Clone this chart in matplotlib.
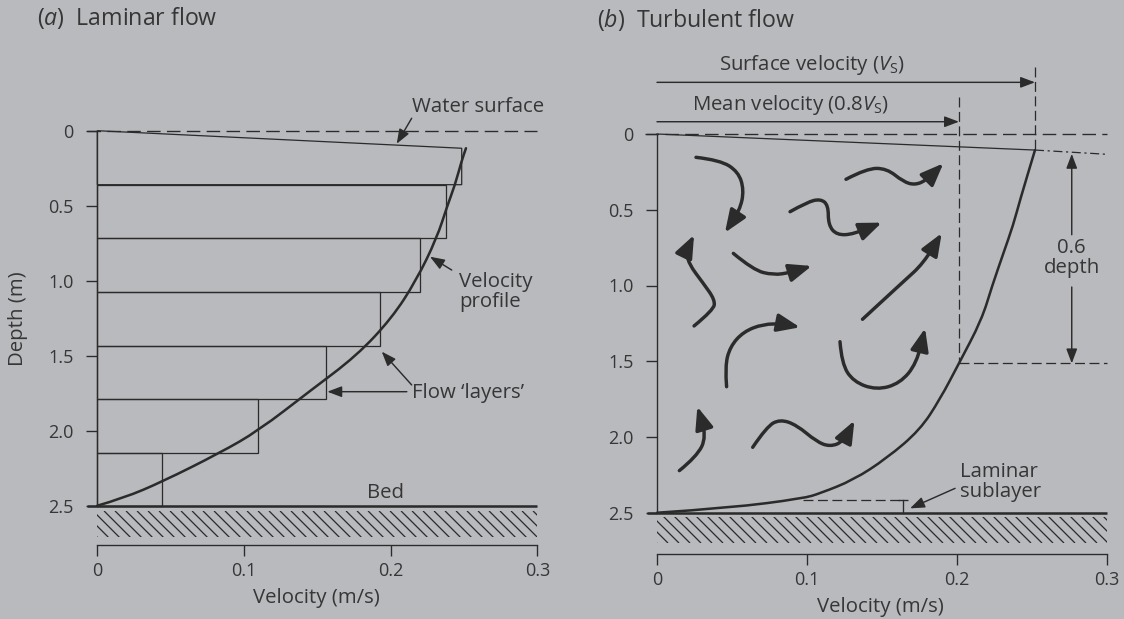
import matplotlib.pyplot as plt
import numpy as np
from matplotlib.collections import LineCollection
from matplotlib.patches import FancyArrowPatch, PathPatch, Polygon, Rectangle
from matplotlib.path import Path

DPI = 130
W_PX, H_PX = 1124, 619

BG = "#b9babd"
INK = "#2b2b2b"
TEXT = "#363636"

# axis ticks shared by both panels
DEPTH_TICKS = [0, 0.5, 1.0, 1.5, 2.0, 2.5]
DEPTH_LABELS = ["0", "0.5", "1.0", "1.5", "2.0", "2.5"]
VEL_TICKS = [0, 0.1, 0.2, 0.3]
VEL_LABELS = ["0", "0.1", "0.2", "0.3"]
BED_DEPTH = 2.5
VEL_MAX = 0.3

# (a) laminar flow: stacked layers and the velocity profile
LAYER_TOP = [0.0, 0.36, 0.717, 1.077, 1.433, 1.789, 2.147]
LAYER_BOTTOM = [0.36, 0.717, 1.077, 1.433, 1.789, 2.147, 2.5]
LAYER_VELOCITY = [0.2484, 0.2377, 0.22, 0.1927, 0.1557, 0.1098, 0.0443]
LAM_SURFACE_DROP = 0.117
LAM_PROFILE_V = [0.0, 0.0177, 0.0443, 0.0837, 0.1098, 0.145, 0.1768,
                 0.2007, 0.2173, 0.2314, 0.2386, 0.2438, 0.2484, 0.2513]
LAM_PROFILE_D = [2.5, 2.45, 2.34, 2.147, 2.0, 1.735, 1.5,
                 1.25, 1.0, 0.717, 0.5, 0.362, 0.2, 0.117]

# (b) turbulent flow: velocity profile, reference velocities, eddies
TURB_PROFILE_V = [0.0, 0.0487, 0.0976, 0.1087, 0.1309, 0.1531, 0.1753,
                  0.1887, 0.2013, 0.2164, 0.2235, 0.2309, 0.2375, 0.242, 0.252]
TURB_PROFILE_D = [2.5, 2.468, 2.405, 2.372, 2.284, 2.141, 1.954,
                  1.75, 1.514, 1.228, 1.0, 0.788, 0.6, 0.436, 0.106]
SURFACE_V = 0.252
MEAN_V = 0.2013
MEAN_DEPTH = 1.514
TURB_SURFACE_DROP = 0.106
TURB_EDGE_DROP = 0.134
SUBLAYER_TOP = 2.416
SUBLAYER_START_V = 0.0976
SUBLAYER_MARK_V = 0.1642

EDDIES = [
    [(0.026, 0.154), (0.042, 0.172), (0.0542, 0.249), (0.058, 0.370),
     (0.0553, 0.502), (0.0453, 0.651)],
    [(0.126, 0.299), (0.1398, 0.227), (0.1531, 0.227), (0.1642, 0.315),
     (0.172, 0.337), (0.1798, 0.304), (0.1909, 0.194)],
    [(0.0887, 0.513), (0.100, 0.45), (0.109, 0.428), (0.1142, 0.47),
     (0.1142, 0.60), (0.1198, 0.667), (0.131, 0.662), (0.1498, 0.585)],
    [(0.0509, 0.788), (0.0642, 0.898), (0.0776, 0.931), (0.0887, 0.915),
     (0.1031, 0.871)],
    [(0.0247, 1.267), (0.0376, 1.162), (0.0387, 1.096), (0.0309, 0.986),
     (0.0209, 0.854), (0.0198, 0.766), (0.0247, 0.667)],
    [(0.137, 1.223), (0.1509, 1.096), (0.1642, 0.975), (0.1776, 0.854),
     (0.1898, 0.655)],
    [(0.0464, 1.668), (0.0453, 1.536), (0.0487, 1.404), (0.0576, 1.305),
     (0.0709, 1.254), (0.0842, 1.254), (0.0953, 1.276)],
    [(0.122, 1.371), (0.1231, 1.514), (0.1309, 1.635), (0.1464, 1.69),
     (0.162, 1.646), (0.1731, 1.514), (0.1787, 1.283)],
    [(0.0149, 2.222), (0.0264, 2.13), (0.0331, 1.998), (0.0269, 1.8)],
    [(0.0638, 2.068), (0.0731, 1.932), (0.082, 1.883), (0.0931, 1.921),
     (0.1064, 2.031), (0.1153, 2.064), (0.1242, 2.031), (0.1316, 1.892)],
]

LABEL_PT = 11.3
TICK_PT = 10
TITLE_PT = 12.8

plt.rcParams.update({
    "font.family": ["Open Sans", "DejaVu Sans"],
    "mathtext.fontset": "custom",
    "mathtext.rm": "Open Sans",
    "mathtext.it": "Open Sans:italic",
    "lines.scale_dashes": False,
    "text.color": TEXT,
})

HATCH_STEP_PX = 11     # horizontal gap between bed hatch strokes
DASHED = (0, (7.5, 3.5))
FINE_DASHED = (0, (5.5, 2.5))
DASH_DOT = (0, (5, 2, 1.2, 2))


def panel(fig, px_left, px_right, x0_px, px_per_v, y0_px, px_per_d, axis_depth):
    """Axes spanning a vertical strip of the figure, scaled so data units land on fixed pixels."""
    ax = fig.add_axes([px_left / W_PX, 0, (px_right - px_left) / W_PX, 1])
    ax.set_xlim((px_left - x0_px) / px_per_v, (px_right - x0_px) / px_per_v)
    ax.set_ylim((H_PX - y0_px) / px_per_d, -y0_px / px_per_d)
    ax.patch.set_visible(False)
    for side in ("top", "right"):
        ax.spines[side].set_visible(False)
    ax.spines["left"].set_position(("data", 0))
    ax.spines["left"].set_bounds(0, BED_DEPTH)
    ax.spines["bottom"].set_position(("data", axis_depth))
    ax.spines["bottom"].set_bounds(0, VEL_MAX)
    for side in ("left", "bottom"):
        ax.spines[side].set_color(INK)
        ax.spines[side].set_linewidth(0.75)
    ax.set_yticks(DEPTH_TICKS, DEPTH_LABELS)
    ax.set_xticks(VEL_TICKS, VEL_LABELS)
    ax.tick_params(direction="out", length=6, width=0.75, color=INK,
                   labelcolor=TEXT, labelsize=TICK_PT)
    ax.tick_params(axis="y", pad=7)
    ax.tick_params(axis="x", pad=3)
    return ax


def smooth_path(points):
    """Quadratic segments through the midpoints of successive points."""
    verts = [points[0]]
    codes = [Path.MOVETO]
    for i in range(1, len(points) - 1):
        mid = ((points[i][0] + points[i + 1][0]) / 2, (points[i][1] + points[i + 1][1]) / 2)
        verts += [points[i], mid]
        codes += [Path.CURVE3, Path.CURVE3]
    verts.append(points[-1])
    codes.append(Path.LINETO)
    return Path(verts, codes)


def profile(ax, vel, depth):
    ax.add_patch(PathPatch(smooth_path(list(zip(vel, depth))), fill=False,
                           edgecolor=INK, lw=1.4, capstyle="round"))


def arrow(ax, tail, head, scale=15):
    ax.annotate("", xy=head, xytext=tail,
                arrowprops=dict(arrowstyle="-|>,head_length=0.45,head_width=0.17",
                                mutation_scale=scale, lw=0.8, color=INK,
                                shrinkA=0, shrinkB=0))


def bed(ax, hatch_top, hatch_bottom, px_per_v, px_per_d):
    """Bed line with 45-degree hatching clipped to a strip underneath it."""
    ax.plot([-0.007, VEL_MAX], [BED_DEPTH, BED_DEPTH], color=INK, lw=1.4,
            solid_capstyle="butt")
    run = (hatch_bottom - hatch_top) * px_per_d / px_per_v
    starts = np.arange(-run, VEL_MAX, HATCH_STEP_PX / px_per_v)
    strokes = LineCollection([[(s, hatch_top), (s + run, hatch_bottom)] for s in starts],
                             colors=INK, linewidths=0.7)
    ax.add_collection(strokes)
    # clip after adding: add_collection would otherwise swap in the axes box
    strokes.set_clip_path(Rectangle((0, hatch_top), VEL_MAX, hatch_bottom - hatch_top,
                                    transform=ax.transData))


def eddy(ax, points):
    ax.add_patch(FancyArrowPatch(path=smooth_path(points),
                                 arrowstyle="-|>,head_length=0.5,head_width=0.2",
                                 mutation_scale=21, lw=1.9, color=INK,
                                 capstyle="round", joinstyle="round"))


fig = plt.figure(figsize=(W_PX / DPI, H_PX / DPI), dpi=DPI, facecolor=BG)

# ---------------- (a) Laminar flow ----------------
ax = panel(fig, 0, 560, 97.3, 1467, 130.7, 150, 2.765)
ax.text(-0.0411, -0.751, r"($\it{a}$)  Laminar flow", fontsize=TITLE_PT,
        ha="left", va="center")

ax.plot([-0.0072, VEL_MAX], [0, 0], color=INK, lw=0.75, ls=DASHED)

for k, (top, bottom, v) in enumerate(zip(LAYER_TOP, LAYER_BOTTOM, LAYER_VELOCITY)):
    top_right = LAM_SURFACE_DROP if k == 0 else top
    ax.add_patch(Polygon([(0, top), (v, top_right), (v, bottom), (0, bottom)],
                         closed=True, fill=False, edgecolor=INK, lw=0.7))

profile(ax, LAM_PROFILE_V, LAM_PROFILE_D)
bed(ax, 2.535, 2.71, 1467, 150)

ax.text(0.2597, -0.16, "Water surface", fontsize=LABEL_PT, ha="center", va="center")
arrow(ax, (0.2143, -0.083), (0.2041, 0.087))
ax.text(0.2468, 1.075, "Velocity\nprofile", fontsize=LABEL_PT, ha="left",
        va="center", linespacing=1.0)
arrow(ax, (0.2416, 0.929), (0.2268, 0.84))
ax.text(0.2143, 1.751, "Flow \u2018layers\u2019", fontsize=LABEL_PT, ha="left", va="center")
arrow(ax, (0.211, 1.74), (0.1568, 1.74))
arrow(ax, (0.2143, 1.695), (0.1939, 1.473))
ax.text(0.1966, 2.418, "Bed", fontsize=LABEL_PT, ha="center", va="center")

ax.text(-0.054, 1.25, "Depth (m)", fontsize=LABEL_PT, rotation=90,
        ha="center", va="center")
ax.text(0.1495, 3.117, "Velocity (m/s)", fontsize=LABEL_PT, ha="center", va="center")

# ---------------- (b) Turbulent flow ----------------
ax = panel(fig, 560, 1124, 657, 1500, 134, 151.5, 2.775)
ax.text(-0.0402, -0.752, r"($\it{b}$)  Turbulent flow", fontsize=TITLE_PT,
        ha="left", va="center")

ax.plot([-0.008, VEL_MAX], [0, 0], color=INK, lw=0.75, ls=DASHED)
ax.plot([0, SURFACE_V], [0, TURB_SURFACE_DROP], color=INK, lw=0.7)
ax.plot([SURFACE_V, VEL_MAX], [TURB_SURFACE_DROP, TURB_EDGE_DROP], color=INK,
        lw=0.7, ls=DASH_DOT)

# reference velocities
ax.plot([SURFACE_V, SURFACE_V], [-0.444, TURB_SURFACE_DROP], color=INK, lw=0.7, ls=FINE_DASHED)
ax.plot([MEAN_V, MEAN_V], [-0.242, MEAN_DEPTH], color=INK, lw=0.7, ls=FINE_DASHED)
ax.plot([MEAN_V, VEL_MAX], [MEAN_DEPTH, MEAN_DEPTH], color=INK, lw=0.7, ls=FINE_DASHED)
arrow(ax, (0, -0.341), (SURFACE_V, -0.341))
arrow(ax, (0, -0.081), (MEAN_V, -0.081))
ax.text(0.1035, -0.455, r"Surface velocity ($V_\mathrm{S}$)", fontsize=LABEL_PT,
        ha="center", va="center")
ax.text(0.0893, -0.19, r"Mean velocity (0.8$V_\mathrm{S}$)", fontsize=LABEL_PT,
        ha="center", va="center")

# 0.6 depth dimension
arrow(ax, (0.2765, 0.665), (0.2765, 0.131))
arrow(ax, (0.2765, 1.01), (0.2765, MEAN_DEPTH))
ax.text(0.2765, 0.818, "0.6\ndepth", fontsize=LABEL_PT, ha="center", va="center",
        linespacing=1.0)

for path in EDDIES:
    eddy(ax, path)

profile(ax, TURB_PROFILE_V, TURB_PROFILE_D)

# laminar sublayer
ax.plot([SUBLAYER_START_V, SUBLAYER_MARK_V], [SUBLAYER_TOP, SUBLAYER_TOP],
        color=INK, lw=0.7, ls=FINE_DASHED)
ax.plot([SUBLAYER_MARK_V, SUBLAYER_MARK_V], [SUBLAYER_TOP, BED_DEPTH], color=INK,
        lw=0.75, marker="_", markevery=[0], markersize=6, markeredgewidth=0.75)
ax.text(0.202, 2.297, "Laminar\nsublayer", fontsize=LABEL_PT, ha="left",
        va="center", linespacing=1.0)
arrow(ax, (0.1987, 2.339), (0.1687, 2.471))

bed(ax, 2.526, 2.70, 1500, 151.5)
ax.text(0.1487, 3.12, "Velocity (m/s)", fontsize=LABEL_PT, ha="center", va="center")

fig.savefig("out.png", dpi=DPI, facecolor=BG)
